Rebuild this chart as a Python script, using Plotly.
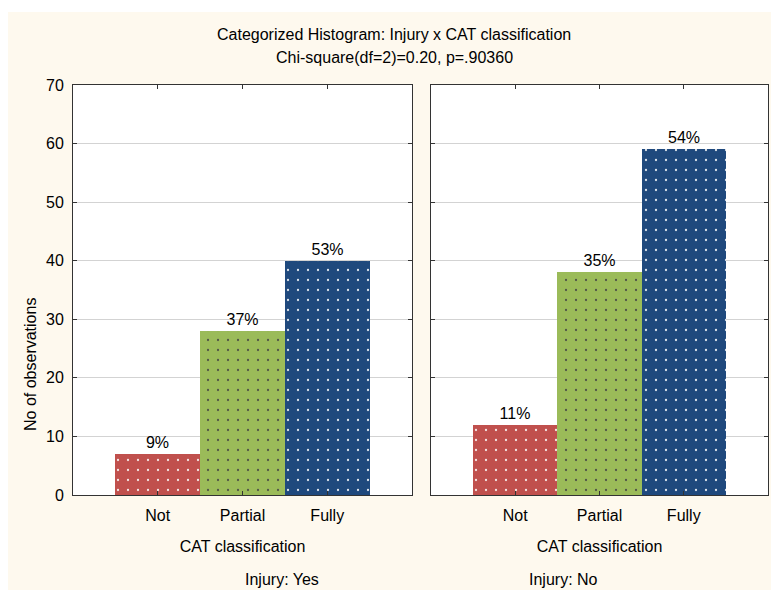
import plotly.graph_objects as go

categories = ["Not", "Partial", "Fully"]
injury_yes = [7, 28, 40]
injury_no = [12, 38, 59]
pct_yes = ["9%", "37%", "53%"]
pct_no = ["11%", "35%", "54%"]
panel_titles = ["Injury: Yes", "Injury: No"]
colors = ["#C0504D", "#9BBB59", "#1F497D"]
y_ticks = [0, 10, 20, 30, 40, 50, 60, 70]

FONT = "Liberation Sans, Arial, sans-serif"
# page body adds an 8px offset, so the figure is slightly smaller than the window
W, H = 771, 582
ML, MR, MT, MB = 65, 11, 77, 95
PW = W - ML - MR
PH = H - MT - MB
CREAM = "#FEF9EE"

fig = go.Figure()
for i, (vals, pcts) in enumerate([(injury_yes, pct_yes), (injury_no, pct_no)]):
    fig.add_trace(go.Bar(
        x=categories, y=vals, text=pcts, textposition="outside",
        textfont=dict(size=16, color="black", family=FONT),
        cliponaxis=False,
        marker=dict(color=colors, line=dict(width=0),
                    pattern=dict(shape=".", fgcolor="white", fgopacity=0.85,
                                 size=10, solidity=0.04)),
        xaxis="x" if i == 0 else "x2", yaxis="y" if i == 0 else "y2",
        showlegend=False, width=1.0,
    ))

d1 = (404 - ML) / PW
d2 = (423 - ML) / PW
axis_common = dict(showline=True, linecolor="#333", linewidth=1, mirror="ticks",
                   ticks="inside", ticklen=4, tickcolor="#333",
                   tickfont=dict(size=16, family=FONT, color="black"))
xtitle = dict(text="CAT classification", standoff=17, font=dict(size=16, family=FONT))
fig.update_layout(
    width=W, height=H,
    margin=dict(l=ML, r=MR, t=MT, b=MB),
    paper_bgcolor=CREAM, plot_bgcolor="white",
    bargap=0,
    font=dict(family=FONT, size=16, color="black"),
    xaxis=dict(domain=[0, d1], range=[-1, 3], type="category", ticklabelstandoff=6,
               showgrid=False, title=xtitle, **axis_common),
    xaxis2=dict(domain=[d2, 1], range=[-1, 3], type="category", ticklabelstandoff=6,
                showgrid=False, title=xtitle, **axis_common),
    yaxis=dict(range=[0, 70], tickvals=y_ticks, showgrid=True, gridcolor="#D3D3D3",
               zeroline=False, anchor="x", ticklabelstandoff=5, **axis_common),
    yaxis2=dict(range=[0, 70], tickvals=y_ticks, showgrid=True, gridcolor="#D3D3D3",
                zeroline=False, anchor="x2", showticklabels=False, **axis_common),
)

# thin white strip above the cream frame
fig.add_shape(type="rect", xref="paper", yref="paper",
              x0=-ML / PW, x1=(W - ML) / PW, y0=1 + (MT - 4) / PH, y1=1 + MT / PH,
              fillcolor="white", line=dict(width=0), layer="below")

fig.add_annotation(text="Categorized Histogram: Injury x CAT classification",
                   xref="paper", yref="paper", x=(386 - ML) / PW, y=1 + (MT - 27) / PH,
                   showarrow=False, font=dict(size=16, family=FONT), yanchor="middle")
fig.add_annotation(text="Chi-square(df=2)=0.20, p=.90360",
                   xref="paper", yref="paper", x=(386 - ML) / PW, y=1 + (MT - 50) / PH,
                   showarrow=False, font=dict(size=16, family=FONT), yanchor="middle")
fig.add_annotation(text="No of observations", textangle=-90,
                   xref="paper", yref="paper", x=(22 - ML) / PW, y=1 - (357 - MT) / PH,
                   showarrow=False, font=dict(size=16, family=FONT),
                   xanchor="center", yanchor="middle")
for cx, t in zip([(d1) / 2, (d2 + 1) / 2], panel_titles):
    fig.add_annotation(text=t, xref="paper", yref="paper", x=cx, y=-(571 - MT - PH) / PH,
                       showarrow=False, font=dict(size=16, family=FONT), yanchor="middle")

fig.write_html("out.html")
